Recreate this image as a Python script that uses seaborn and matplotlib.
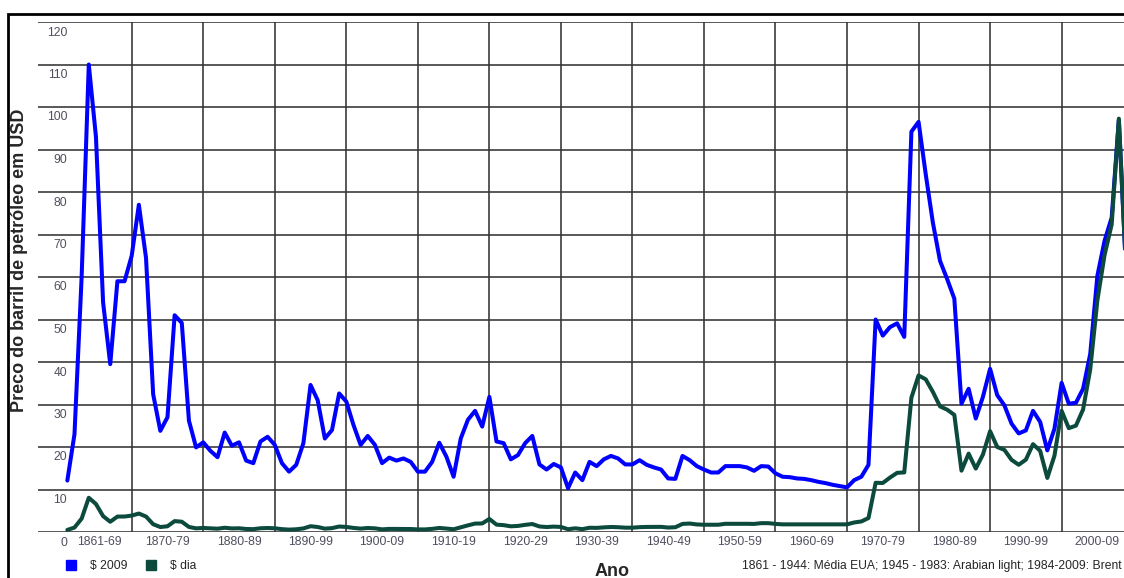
import matplotlib
matplotlib.use('Agg')
import matplotlib.pyplot as plt
import matplotlib.transforms as mtransforms
from matplotlib.lines import Line2D
from matplotlib.patches import Rectangle
import pandas as pd
import seaborn as sns

# Oil price per barrel, 1861-2009
years = list(range(1861, 2010))

usd_2009 = [
    12.1, 23.0, 60.0, 110.0, 93.0, 54.0, 39.5, 59.0, 59.0,            # 1861-69
    65.0, 77.0, 64.5, 32.4, 23.8, 27.0, 51.0, 49.2, 26.2, 19.9,        # 1870-79
    21.1, 19.1, 17.6, 23.4, 20.3, 21.1, 16.8, 16.2, 21.3, 22.4,        # 1880-89
    20.5, 16.2, 14.2, 15.8, 20.9, 34.6, 31.0, 22.0, 24.0, 32.6,        # 1890-99
    30.7, 25.2, 20.5, 22.6, 20.5, 16.2, 17.5, 16.8, 17.3, 16.5,        # 1900-09
    14.2, 14.2, 16.5, 21.0, 17.7, 13.0, 22.0, 26.4, 28.5, 24.8,        # 1910-19
    31.8, 21.3, 20.9, 17.1, 18.1, 20.9, 22.6, 15.9, 14.7, 16.0,        # 1920-29
    15.2, 10.3, 14.0, 12.2, 16.5, 15.5, 17.1, 17.9, 17.3, 15.9,        # 1930-39
    15.9, 16.9, 15.8, 15.2, 14.7, 12.6, 12.5, 17.9, 16.9, 15.5,        # 1940-49
    14.7, 14.0, 14.0, 15.5, 15.5, 15.5, 15.2, 14.4, 15.5, 15.4,        # 1950-59
    13.8, 13.0, 12.9, 12.6, 12.5, 12.2, 11.8, 11.5, 11.1, 10.8,        # 1960-69
    10.5, 12.2, 13.0, 15.8, 50.0, 46.2, 48.2, 49.1, 45.9, 94.2,        # 1970-79
    96.5, 84.2, 72.8, 63.8, 59.5, 54.9, 30.2, 33.7, 26.7, 31.8,        # 1980-89
    38.4, 32.2, 29.8, 25.5, 23.2, 23.9, 28.5, 25.9, 19.2, 24.3,        # 1990-99
    35.1, 30.2, 30.4, 33.7, 41.9, 60.3, 68.5, 74.0, 96.9, 61.7,        # 2000-09
]

usd_dia = [
    0.49, 1.05, 3.15, 8.06, 6.59, 3.74, 2.41, 3.63, 3.64,              # 1861-69
    3.86, 4.34, 3.64, 1.83, 1.17, 1.35, 2.56, 2.42, 1.19, 0.86,        # 1870-79
    0.95, 0.86, 0.78, 1.00, 0.84, 0.88, 0.71, 0.67, 0.88, 0.94,        # 1880-89
    0.87, 0.67, 0.56, 0.64, 0.84, 1.36, 1.18, 0.79, 0.91, 1.29,        # 1890-99
    1.19, 0.96, 0.80, 0.94, 0.86, 0.62, 0.73, 0.72, 0.72, 0.70,        # 1900-09
    0.61, 0.61, 0.74, 0.95, 0.81, 0.64, 1.10, 1.56, 1.98, 2.01,        # 1910-19
    3.07, 1.73, 1.61, 1.34, 1.43, 1.68, 1.88, 1.30, 1.17, 1.27,        # 1920-29
    1.19, 0.65, 0.87, 0.67, 1.00, 0.97, 1.09, 1.18, 1.13, 1.02,        # 1930-39
    1.02, 1.14, 1.19, 1.20, 1.21, 1.05, 1.12, 1.90, 1.99, 1.78,        # 1940-49
    1.71, 1.71, 1.71, 1.93, 1.93, 1.93, 1.93, 1.90, 2.08, 2.08,        # 1950-59
    1.90, 1.80, 1.80, 1.80, 1.80, 1.80, 1.80, 1.80, 1.80, 1.80,        # 1960-69
    1.80, 2.24, 2.48, 3.29, 11.58, 11.53, 12.80, 13.92, 14.02, 31.61,  # 1970-79
    36.83, 35.93, 32.97, 29.55, 28.78, 27.56, 14.43, 18.44, 14.92, 18.23,  # 1980-89
    23.73, 20.00, 19.32, 16.97, 15.82, 17.02, 20.67, 19.09, 12.72, 17.97,  # 1990-99
    28.50, 24.44, 25.02, 28.83, 38.27, 54.52, 65.14, 72.39, 97.26, 61.67,  # 2000-09
]

decade_labels = ['1861-69', '1870-79', '1880-89', '1890-99', '1900-09', '1910-19', '1920-29',
                 '1930-39', '1940-49', '1950-59', '1960-69', '1970-79', '1980-89', '1990-99', '2000-09']
decade_label_pos = [1865.5] + [1875 + 10 * i for i in range(14)]
decade_bounds = list(range(1870, 2001, 10))
y_ticks = list(range(0, 121, 10))

note = '1861 - 1944: Média EUA; 1945 - 1983: Arabian light; 1984-2009: Brent'

BLUE = '#0000ff'
GREEN = '#0b4a3c'
TICK_COLOR = '#4f4f5f'

W, H = 1124, 578

sns.set_theme(style='white')
plt.rcParams['font.family'] = ['Liberation Sans', 'DejaVu Sans']

fig = plt.figure(figsize=(W / 100, H / 100), dpi=100)
fig.patch.set_facecolor('white')
ax = fig.add_axes([38 / W, 46 / H, 1088 / W, 510 / H])

df = pd.DataFrame({'ano': years, 'usd_2009': usd_2009, 'usd_dia': usd_dia})
sns.lineplot(data=df, x='ano', y='usd_2009', color=BLUE, lw=2.9, ax=ax)
sns.lineplot(data=df, x='ano', y='usd_dia', color=GREEN, lw=2.9, ax=ax)

ax.set_xlim(1856.9, 2009)
ax.set_ylim(0, 120)
ax.set_xticks(decade_bounds)
ax.set_xticklabels([])
ax.set_xticks(decade_label_pos, decade_labels, minor=True)
ax.set_yticks(y_ticks)
ax.set_yticklabels([str(v) for v in y_ticks])
ax.set_xlabel('')
ax.set_ylabel('')
for s in ax.spines.values():
    s.set_visible(False)
ax.grid(True, which='major', color='#333333', lw=1.15)
ax.set_axisbelow(True)
ax.tick_params(axis='both', which='both', length=0)
ax.tick_params(axis='y', pad=-21, labelsize=8.7, labelcolor=TICK_COLOR)
ax.tick_params(axis='x', which='minor', pad=2.7, labelsize=8.7, labelcolor=TICK_COLOR)

# y labels sit just below their grid lines, inside the plot
offset = mtransforms.ScaledTranslation(0, -9 / 100, fig.dpi_scale_trans)
for lab in ax.get_yticklabels():
    lab.set_transform(lab.get_transform() + offset)

fig.text(20 / W, 1 - 260 / H, 'Preco do barril de petróleo em USD', rotation=90,
         ha='center', va='center', fontsize=13, fontweight='bold')
fig.text(612 / W, 1 - 563 / H, 'Ano', ha='center', va='top', fontsize=13, fontweight='bold')
fig.text(1122 / W, 1 - 566 / H, note, ha='right', va='center', fontsize=8.7)

handles = [Line2D([], [], marker='s', ls='', color=BLUE, markersize=7.5),
           Line2D([], [], marker='s', ls='', color=GREEN, markersize=7.5)]
fig.legend(handles, ['$ 2009', '$ dia'], loc='center left', bbox_to_anchor=(66 / W, 1 - 566 / H),
           ncol=2, frameon=False, fontsize=8.7, handlelength=0.9, handletextpad=1.1,
           columnspacing=1.5, borderpad=0, borderaxespad=0)

# outer frame (cut by the right and bottom edges of the image)
fig.add_artist(Rectangle((8 / W, -0.1), 1.2, 1.1 - 14 / H, transform=fig.transFigure,
                         fill=False, ec='black', lw=2.0))

fig.savefig('out.png', dpi=100)
